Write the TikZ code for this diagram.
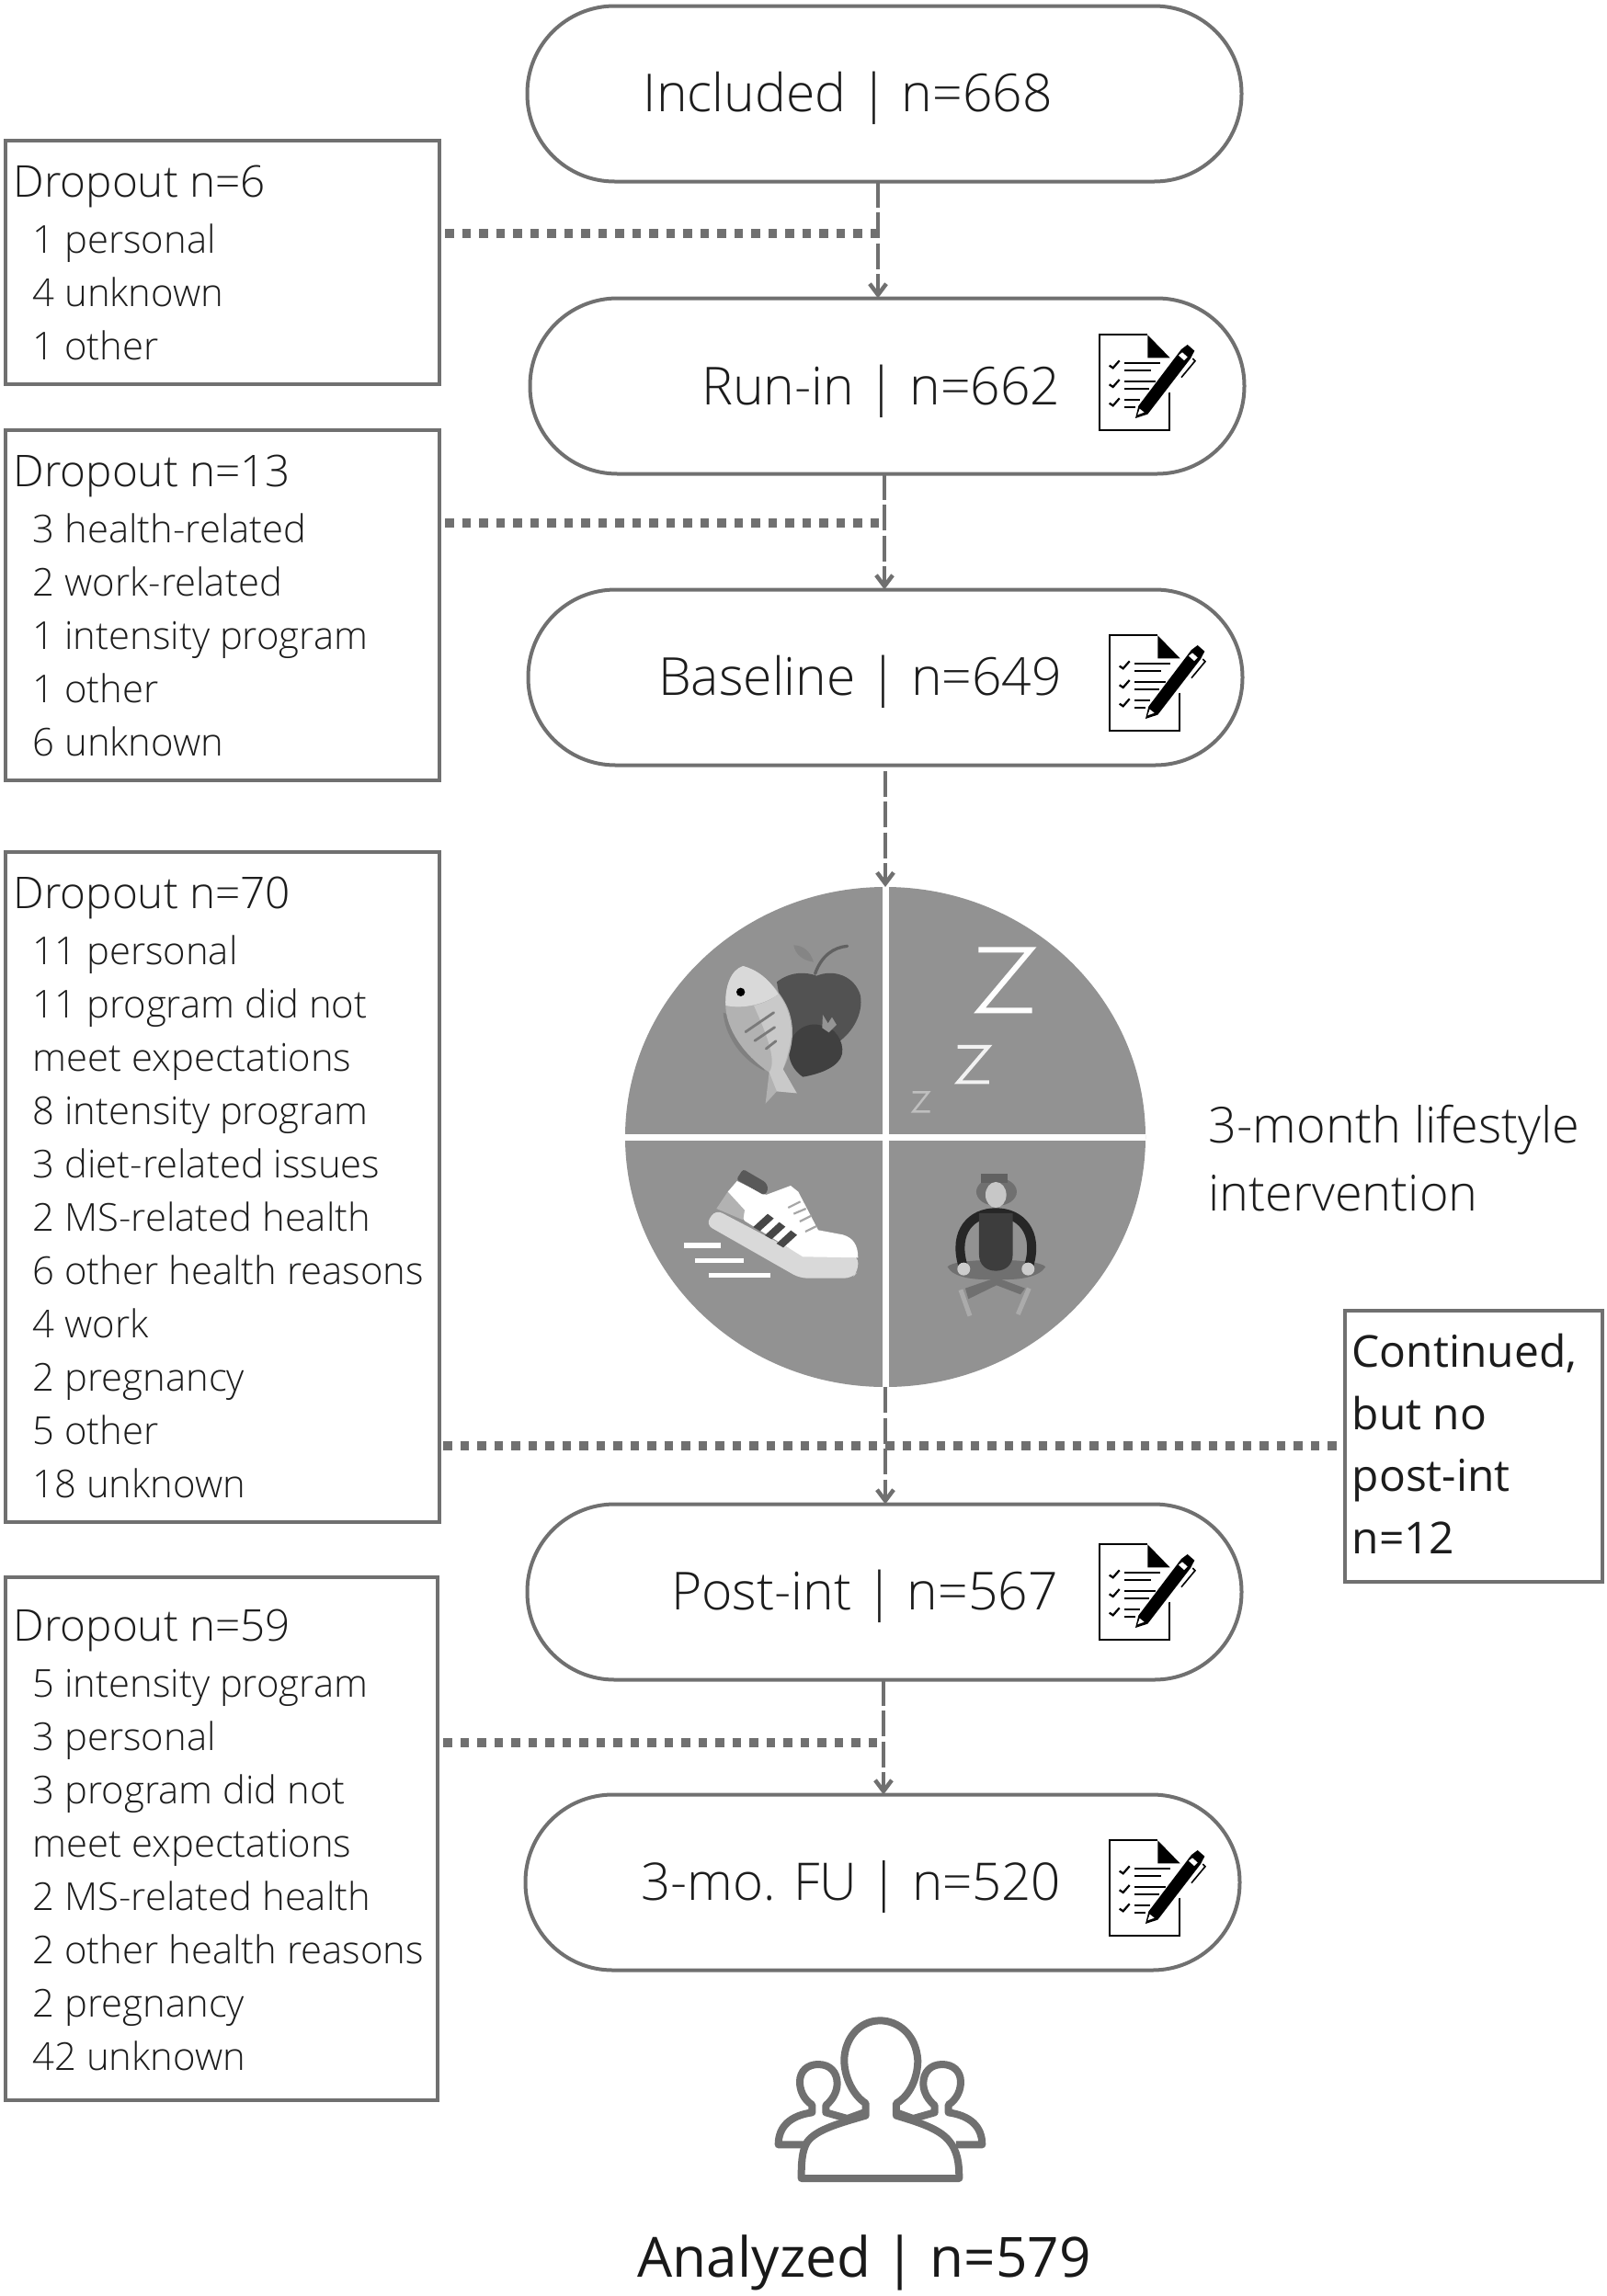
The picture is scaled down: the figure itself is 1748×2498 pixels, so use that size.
\documentclass[tikz,border=0pt]{standalone}
\usepackage{fontspec}
\usetikzlibrary{calc,arrows.meta,shapes.geometric}
\setmainfont{Open Sans}
\newfontfamily\lightf{Open Sans}[UprightFont=* Light]
\definecolor{ln}{HTML}{707070}
\definecolor{tx}{HTML}{1c1c1c}
\definecolor{wh}{HTML}{929292}
\tikzset{
  pill/.style={draw=ln,line width=4pt,outer sep=0pt,rounded corners=95pt,minimum width=777pt,minimum height=191pt,inner sep=0pt,fill=white},
  dropbox/.style={draw=ln,line width=4pt,outer sep=0pt,anchor=north west,inner sep=0pt},
  droptext/.style={anchor=north west,inner sep=0pt,align=left,text=tx,font=\lightf\fontsize{41.8}{58}\selectfont},
  pilltext/.style={anchor=base west,inner sep=0pt,text=tx,font=\lightf\fontsize{57}{60}\selectfont},
  flow/.style={draw=ln,line width=4.5pt,dash pattern=on 28pt off 5.5pt,-{Straight Barb[length=12pt,width=18pt,line width=4.5pt]}},
  dropline/.style={draw=ln,line width=9.5pt,dash pattern=on 9.5pt off 9pt},
  icon/.style={draw=black,line width=2.2pt},
  peep/.style={draw=ln,line width=8pt,line join=round,fill=white}
}
\newcommand{\hd}[1]{{\lightf\fontsize{47.6}{58}\selectfont #1}}
\newcommand{\ind}{\hspace*{21pt}}
\newcommand{\clipicon}[2]{%
\begin{scope}[shift={(#1,#2)},scale=0.3333]
  \draw[icon] (365,290) -- (365,415) -- (137,415) -- (137,103) -- (295,103);
  \fill (295,103) -- (368,178) -- (295,178) -- cycle;
  \foreach \y in {195,257,318}{
    \draw[black,line width=2.2pt] (170,\y+8) -- (182,\y+16) -- (203,\y-8);}
  \draw[black,line width=2.2pt] (220,195) -- (335,195) (220,218) -- (305,218)
     (220,255) -- (320,255) (220,278) -- (300,278) (220,315) -- (270,315) (220,338) -- (255,338);
  \draw[white,line width=4pt] (262,368) -- (270,335) -- (408,150) -- (445,180) -- (298,365) -- cycle;
  \fill (255,375) -- (265,335) -- (405,150) -- (425,135) -- (448,155) -- (435,180) -- (295,362) -- cycle;
  \fill[white] (262,364) -- (269,344) -- (284,356) -- cycle;
  \fill[white] (396,170) -- (408,160) -- (425,175) -- (414,186) -- cycle;
  \draw[black,line width=1.6pt] (442,180) -- (450,188) -- (405,242);
\end{scope}}
\begin{document}
\begin{tikzpicture}[x=1pt,y=-1pt]
\useasboundingbox (0,0) rectangle (1748,2498);
% pills
\node[pill] (inc) at (962,102) {};
\node[pill] (run) at (965,420) {};
\node[pill] (bas) at (963,737) {};
\node[pill] (pst) at (962,1732) {};
\node[pill] (fu)  at (960,2048) {};
\node[pilltext] (tinc) at (699.5,121) {Included | n=668};
\node[pilltext] (trun) at (763,440) {Run-in | n=662};
\node[pilltext] (tbas) at (716,756) {Baseline | n=649};
\node[pilltext] (tpst) at (730,1751) {Post-int | n=567};
\node[pilltext,font=\lightf\fontsize{56.4}{60}\selectfont] (tfu)  at (697,2067) {3-mo. FU | n=520};
% boxes
\node[dropbox,minimum width=472pt,minimum height=265pt] (d1) at (6,153) {};
\node[dropbox,minimum width=472pt,minimum height=381pt] (d2) at (6,468) {};
\node[dropbox,minimum width=472pt,minimum height=729pt] (d3) at (6,927) {};
\node[dropbox,minimum width=470pt,minimum height=569pt] (d4) at (6,1716) {};
\node[dropbox,minimum width=280pt,minimum height=295pt] (cont) at (1463,1426) {};
\node[droptext] (t1) at (14.5,180) {\hd{Dropout n=6}\\[3pt]\ind 1 personal\\\ind 4 unknown\\\ind 1 other};
\node[droptext] (t2) at (14.5,495) {\hd{Dropout n=13}\\[3pt]\ind 3 health-related\\\ind 2 work-related\\\ind 1 intensity program\\\ind 1 other\\\ind 6 unknown};
\node[droptext] (t3) at (14.5,954) {\hd{Dropout n=70}\\[3pt]\ind 11 personal\\\ind 11 program did not\\\ind meet expectations\\\ind 8 intensity program\\\ind 3 diet-related issues\\\ind 2 MS-related health\\\ind 6 other health reasons\\\ind 4 work\\\ind 2 pregnancy\\\ind 5 other\\\ind 18 unknown};
\node[droptext] (t4) at (14.5,1751) {\hd{Dropout n=59}\\[3pt]\ind 5 intensity program\\\ind 3 personal\\\ind 3 program did not\\\ind meet expectations\\\ind 2 MS-related health\\\ind 2 other health reasons\\\ind 2 pregnancy\\\ind 42 unknown};
\node[anchor=north west,inner sep=0pt,align=left,text=tx,font=\fontsize{47.9}{67.5}\selectfont] (tc) at (1470.5,1451) {Continued,\\but no\\post-int\\n=12};
\node[anchor=north west,inner sep=0pt,align=left,text=tx,font=\lightf\fontsize{54}{74}\selectfont] (tl) at (1314.5,1201.5) {3-month lifestyle\\intervention};
\node[anchor=base west,inner sep=0pt,text=black!90,font=\fontsize{60.3}{62}\selectfont] (ta) at (693.5,2477.5) {Analyzed | n=579};
% wheel
\node[ellipse,fill=wh,minimum width=566pt,minimum height=544pt,inner sep=0pt,outer sep=0pt] (wheel) at (963,1237) {};
\draw[white,line width=7pt] (wheel.north) -- (wheel.south) (wheel.west) -- (wheel.east);
\begin{scope}[shift={(660,950)},scale=0.3333]
  % apple
  \fill[black!62,opacity=.25] (610,235) .. controls (640,235) and (665,255) .. (675,290) .. controls (640,285) and (615,265) .. (610,235) -- cycle;
  \draw[line width=3.3pt,draw=black!62,line cap=round] (680,328) .. controls (700,270) and (740,242) .. (785,238);
  \fill[black!68] (555,355) .. controls (600,320) and (650,322) .. (685,335) .. controls (740,312) and (810,335) .. (828,400) .. controls (838,460) and (800,520) .. (760,548) -- (590,560) -- cycle;
  \fill[black!75] (595,570) .. controls (600,520) and (650,482) .. (700,497) .. controls (745,500) and (775,550) .. (768,590) .. controls (760,630) and (700,655) .. (640,665) .. controls (610,645) and (590,610) .. (595,570) -- cycle;
  \fill[black!42] (705,462) -- (722,490) -- (735,470) -- (750,495) -- (725,520) -- (703,505) -- cycle;
  % fish
  \fill[black!50] (380,455) .. controls (385,530) and (440,610) .. (515,645) -- (450,480) -- cycle;
  \fill[black!30] (445,303) .. controls (405,315) and (385,370) .. (388,440) .. controls (395,530) and (470,610) .. (530,650) -- (518,752) -- (555,712) -- (620,718) -- (575,640) .. controls (600,590) and (615,530) .. (600,470) .. controls (585,400) and (510,320) .. (445,303) -- cycle;
  \fill[black!15] (445,303) .. controls (405,315) and (385,370) .. (388,432) .. controls (450,445) and (520,425) .. (560,395) .. controls (530,345) and (490,315) .. (445,303) -- cycle;
  \fill[black!21] (480,432) .. controls (510,425) and (540,412) .. (560,395) .. controls (590,430) and (615,500) .. (595,570) .. controls (590,600) and (575,640) .. (575,640) -- (620,718) -- (555,712) -- (530,650) .. controls (560,610) and (510,500) .. (480,432) -- cycle;
  \fill[black] (437,388) circle (14);
  \draw[black!52,line width=2.8pt,line cap=round] (453,518) -- (545,455) (483,547) -- (548,503) (520,573) -- (552,548);
  % sleep
  \draw[white,line width=6pt,line join=miter] (1213,250) -- (1383,250) -- (1217,448) -- (1388,448);
  \draw[black!5,line width=4pt] (1145,567) -- (1245,567) -- (1147,682) -- (1248,682);
  \draw[black!25,line width=2.5pt] (998,715) -- (1050,715) -- (1000,778) -- (1055,778);
  % shoe
  \draw[white,line width=5.5pt] (253,1215) -- (372,1215) (288,1264) -- (447,1264) (332,1312) -- (535,1312);
  \fill[black!15,rounded corners=8pt] (323,1147) -- (355,1098) -- (640,1248) -- (820,1248) -- (820,1300) -- (800,1322) -- (630,1322) -- cycle;
  \fill[white] (395,1040) -- (425,1005) -- (520,1050) -- (600,1020) -- (625,1040) -- (690,1165) -- (770,1180) .. controls (805,1190) and (820,1215) .. (820,1255) -- (640,1252) -- (450,1135) -- cycle;
  \fill[black!30] (395,1040) -- (450,1100) -- (445,1132) -- (358,1095) -- cycle;
  \fill[black!65,rounded corners=3pt] (445,966) -- (520,1010) -- (527,1032) -- (515,1052) -- (423,1000) -- cycle;
  \foreach \a in {0,1,2}{
    \fill[black!72] (478+38*\a,1155+27*\a) -- (525+38*\a,1112+27*\a) -- (545+38*\a,1127+27*\a) -- (500+38*\a,1168+27*\a) -- cycle;}
  \draw[black!35,line width=2.2pt] (592,1092) -- (632,1072) (610,1112) -- (650,1095) (630,1137) -- (668,1118) (648,1170) -- (685,1152);
  % meditator
  \fill[black!56] (1112,1285) .. controls (1130,1255) and (1410,1255) .. (1432,1285) .. controls (1410,1320) and (1340,1330) .. (1272,1325) .. controls (1200,1330) and (1130,1320) .. (1112,1285) -- cycle;
  \fill[black!56] (1170,1355) -- (1272,1320) -- (1365,1355) -- (1350,1375) -- (1272,1345) -- (1180,1390) -- cycle;
  \draw[black!33,line width=5pt] (1155,1360) -- (1185,1445) (1378,1355) -- (1342,1440);
  \fill[black!56] (1272,1040) ellipse (66 and 46);
  \fill[black!62] (1222,980) rectangle (1308,1012);
  \fill[black!22] (1270,1050) ellipse (34 and 42);
  \draw[black!85,line width=10pt] (1162,1280) .. controls (1130,1170) and (1190,1108) .. (1270,1108) .. controls (1350,1108) and (1410,1170) .. (1378,1280);
  \fill[black!76] (1215,1110) -- (1325,1110) -- (1325,1245) .. controls (1325,1280) and (1300,1298) .. (1270,1298) .. controls (1240,1298) and (1215,1280) .. (1215,1245) -- cycle;
  \fill[black!20] (1165,1292) circle (21) (1375,1292) circle (21);
\end{scope}
% clipboards
\clipicon{1150}{330}
\clipicon{1161}{657}
\clipicon{1150}{1646}
\clipicon{1161}{1968}
% people
\begin{scope}[shift={(800,2170)},scale=0.3333]
  \foreach \m/\o in {1/0,-1/945}{
  \begin{scope}[shift={(\o,0)},xscale=\m]
    \draw[peep] (225,490) -- (140,490) .. controls (140,430) and (180,395) .. (250,385) -- (250,360) .. controls (220,340) and (210,310) .. (210,285) .. controls (210,250) and (235,228) .. (270,228) .. controls (310,228) and (332,255) .. (332,290) .. controls (332,320) and (315,345) .. (295,362) -- (295,385) -- (365,405) -- (420,385);
  \end{scope}}
  \draw[peep] (215,600) -- (730,600) .. controls (730,550) and (725,510) .. (695,475) .. controls (660,435) and (590,415) .. (525,395) -- (525,355) .. controls (570,330) and (595,270) .. (595,215) .. controls (590,130) and (530,85) .. (472,85) .. controls (400,85) and (355,150) .. (355,215) .. controls (355,270) and (385,330) .. (425,355) -- (425,395) .. controls (340,420) and (265,440) .. (235,480) .. controls (215,510) and (215,560) .. (215,600) -- cycle;
\end{scope}
% connectors
\coordinate (j1) at (955,254);
\coordinate (j2) at (962,569);
\coordinate (j3) at (963,1573);
\coordinate (j4) at (961,1896);
\draw[flow] ($(inc.south)+(-7,0)$) -- ($(run.north)+(-10,0)$);
\draw[flow] ($(run.south)+(-3,0)$) -- ($(bas.north)+(-1,0)$);
\draw[flow] ($(bas.south)+(0,6)$) -- (wheel.north);
\draw[flow] (wheel.south) -- ($(pst.north)+(1,0)$);
\draw[flow] ($(pst.south)+(-1,0)$) -- ($(fu.north)+(1,0)$);
\draw[dropline] ($(d1.east |- j1)+(6,0)$) -- (j1);
\draw[dropline] ($(d2.east |- j2)+(6,0)$) -- (j2);
\draw[dropline] ($(d3.east |- j3)+(4,0)$) -- (j3);
\draw[dropline] (j3) -- ($(cont.west |- j3)+(-8,0)$);
\draw[dropline] ($(d4.east |- j4)+(6,0)$) -- (j4);
\end{tikzpicture}
\end{document}
